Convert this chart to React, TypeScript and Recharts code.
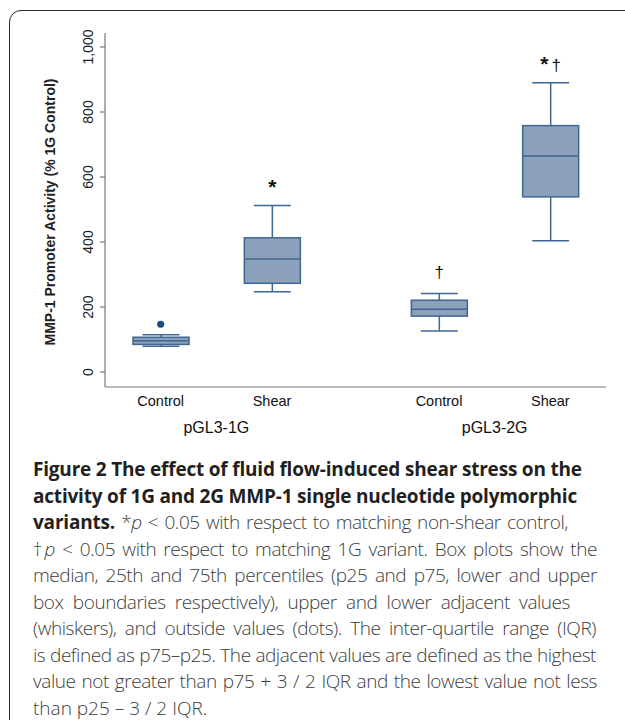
import React from 'react';
import { ComposedChart, Bar, Scatter, XAxis, YAxis } from 'recharts';

const categories = ['Control', 'Shear', 'Control', 'Shear'];
const positions = [1, 2, 3.5, 4.5];
const groups = ['pGL3-1G', 'pGL3-2G'];
const groupPositions = [1.5, 4];
const lowerWhisker = [79, 247, 126, 404];
const q1 = [85, 273, 172, 539];
const median = [96, 348, 193, 665];
const q3 = [107, 413, 221, 758];
const upperWhisker = [115, 512, 242, 890];
const marks = ['', '*', '†', '*†'];
const outliers = [{ x: 1, y: 147 }];
const yTicks = [0, 200, 400, 600, 800, 1000];

const BOX_FILL = '#8ba1bc';
const BOX_STROKE = '#3f6791';
const DOT = '#1c4c7c';
const AXIS = '#7a7a7a';
const CHART_FONT = '"Liberation Sans", Arial, sans-serif';

const boxes = positions.map((x, i) => ({
  x,
  name: categories[i],
  lo: lowerWhisker[i],
  q1: q1[i],
  med: median[i],
  q3: q3[i],
  hi: upperWhisker[i],
  mark: marks[i],
}));

function Mark({ x, y, text }: { x: number; y: number; text: string }) {
  // star drawn bold, dagger thin, like the original
  return (
    <text x={x} y={y} textAnchor="middle" fontFamily={CHART_FONT} fill="#111">
      {text.split('').map((c, i) => (
        <tspan key={i} fontSize={c === '*' ? 21 : 17} fontWeight={c === '*' ? 'bold' : 'normal'} dx={i > 0 ? 3 : 0} dy={c === '*' ? 3 : 0}>
          {c}
        </tspan>
      ))}
    </text>
  );
}

function BoxShape(props: any) {
  const { x, y, width, height, payload } = props;
  const top = Math.min(y, y + height);
  const h = Math.abs(height);
  const k = h / (payload.q3 - payload.q1);
  const py = (v: number) => top + (payload.q3 - v) * k;
  const cx = x + width / 2;
  const cap = width * 0.66;
  return (
    <g>
      <line x1={cx} x2={cx} y1={py(payload.hi)} y2={top} stroke={BOX_STROKE} strokeWidth={1.5} />
      <line x1={cx} x2={cx} y1={top + h} y2={py(payload.lo)} stroke={BOX_STROKE} strokeWidth={1.5} />
      <line x1={cx - cap / 2} x2={cx + cap / 2} y1={py(payload.hi)} y2={py(payload.hi)} stroke={BOX_STROKE} strokeWidth={1.5} />
      <line x1={cx - cap / 2} x2={cx + cap / 2} y1={py(payload.lo)} y2={py(payload.lo)} stroke={BOX_STROKE} strokeWidth={1.5} />
      <rect x={x} y={top} width={width} height={h} fill={BOX_FILL} stroke={BOX_STROKE} strokeWidth={1.5} />
      <line x1={x} x2={x + width} y1={py(payload.med)} y2={py(payload.med)} stroke={BOX_STROKE} strokeWidth={1.5} />
      {payload.mark ? <Mark x={cx} y={py(payload.hi) - 15} text={payload.mark} /> : null}
    </g>
  );
}

function YTick(props: any) {
  const { x, y, payload } = props;
  return (
    <g transform={`translate(${x - 5},${y}) rotate(-90)`}>
      <text x={0} y={0} textAnchor="middle" fontSize={14} fontFamily={CHART_FONT} fill="#222">
        {payload.value.toLocaleString('en-US')}
      </text>
    </g>
  );
}

function XTick(props: any) {
  const { x, y, payload } = props;
  const i = positions.indexOf(payload.value);
  return (
    <text x={x} y={y + 11} textAnchor="middle" fontSize={14.5} fontFamily={CHART_FONT} fill="#111">
      {categories[i]}
    </text>
  );
}

function GroupTick(props: any) {
  const { x, y, payload } = props;
  const i = groupPositions.indexOf(payload.value);
  return (
    <text x={x} y={y + 8} textAnchor="middle" fontSize={16} fontFamily={CHART_FONT} fill="#111">
      {groups[i]}
    </text>
  );
}

function YLabel(props: any) {
  const { viewBox } = props;
  const cx = viewBox.x + 10;
  const cy = viewBox.y + viewBox.height / 2 + 2;
  return (
    <text
      transform={`translate(${cx},${cy}) rotate(-90)`}
      textAnchor="middle"
      fontSize={14}
      fontWeight="bold"
      fontFamily={CHART_FONT}
      fill="#222"
    >
      MMP-1 Promoter Activity (% 1G Control)
    </text>
  );
}

const B = ({ children }: { children: React.ReactNode }) => (
  <span style={{ fontWeight: 700, color: '#231f20', letterSpacing: -0.2 }}>{children}</span>
);

const captionLines: React.ReactNode[] = [
  <B>Figure 2 The effect of fluid flow-induced shear stress on the</B>,
  <B>activity of 1G and 2G MMP-1 single nucleotide polymorphic</B>,
  <>
    <B>variants.</B> *<i>p</i> &lt; 0.05 with respect to matching non-shear control,
  </>,
  <>
    †<i>p</i> &lt; 0.05 with respect to matching 1G variant. Box plots show the
  </>,
  'median, 25th and 75th percentiles (p25 and p75, lower and upper',
  'box boundaries respectively), upper and lower adjacent values',
  '(whiskers), and outside values (dots). The inter-quartile range (IQR)',
  'is defined as p75–p25. The adjacent values are defined as the highest',
  'value not greater than p75 + 3 / 2 IQR and the lowest value not less',
  'than p25 – 3 / 2 IQR.',
];
// right edge of each caption line in the reference (null = ragged)
const captionLineEnds = [null, null, 568, 597, 597, 570, 596, 596, 597, null];

export default function App() {
  return (
    <div
      style={{
        position: 'absolute',
        left: 0,
        top: 0,
        width: 625,
        height: 720,
        background: '#fff',
        overflow: 'hidden',
      }}
    >
      <div
        style={{
          position: 'absolute',
          left: 9,
          top: 10,
          width: 800,
          height: 900,
          border: '1.5px solid #2a2a2a',
          borderTopLeftRadius: 12,
        }}
      />
      <div style={{ position: 'absolute', left: 0, top: 0 }}>
        <ComposedChart
          width={625}
          height={445}
          data={boxes}
          margin={{ top: 33, right: 19, bottom: 3, left: 45 }}
        >
          <XAxis
            xAxisId="cat"
            dataKey="x"
            type="number"
            domain={[0.5, 5]}
            ticks={positions}
            allowDataOverflow
            stroke={AXIS}
            strokeWidth={1.2}
            tickLine={false}
            height={30}
            tick={<XTick />}
          />
          <XAxis
            xAxisId="grp"
            dataKey="x"
            type="number"
            domain={[0.5, 5]}
            ticks={groupPositions}
            allowDataOverflow
            axisLine={false}
            tickLine={false}
            height={25}
            tick={<GroupTick />}
          />
          <YAxis
            type="number"
            domain={[-46, 1043]}
            ticks={yTicks}
            allowDataOverflow
            width={60}
            stroke={AXIS}
            strokeWidth={1.2}
            tickSize={5}
            tick={<YTick />}
            label={<YLabel />}
          />
          <Bar
            xAxisId="cat"
            dataKey={(d: any) => [d.q1, d.q3]}
            barSize={56}
            shape={<BoxShape />}
            isAnimationActive={false}
          />
          <Scatter
            xAxisId="cat"
            data={outliers}
            dataKey="y"
            fill={DOT}
            shape={(p: any) => <circle cx={p.cx} cy={p.cy} r={3.6} fill={DOT} />}
            isAnimationActive={false}
          />
        </ComposedChart>
      </div>
      <div
        style={{
          position: 'absolute',
          left: 33,
          top: 456,
          fontFamily: '"Open Sans", sans-serif',
          fontSize: 19,
          lineHeight: '26.5px',
          color: '#3d3d3d',
          fontWeight: 300,
        }}
      >
        {captionLines.map((line, i) => {
          const end = captionLineEnds[i];
          return (
            <div
              key={i}
              style={
                end
                  ? {
                      width: end - 33,
                      height: 26.5,
                      letterSpacing: -0.45,
                      textAlign: 'justify',
                      textAlignLast: 'justify',
                    }
                  : { whiteSpace: 'nowrap' }
              }
            >
              {line}
            </div>
          );
        })}
      </div>
    </div>
  );
}
